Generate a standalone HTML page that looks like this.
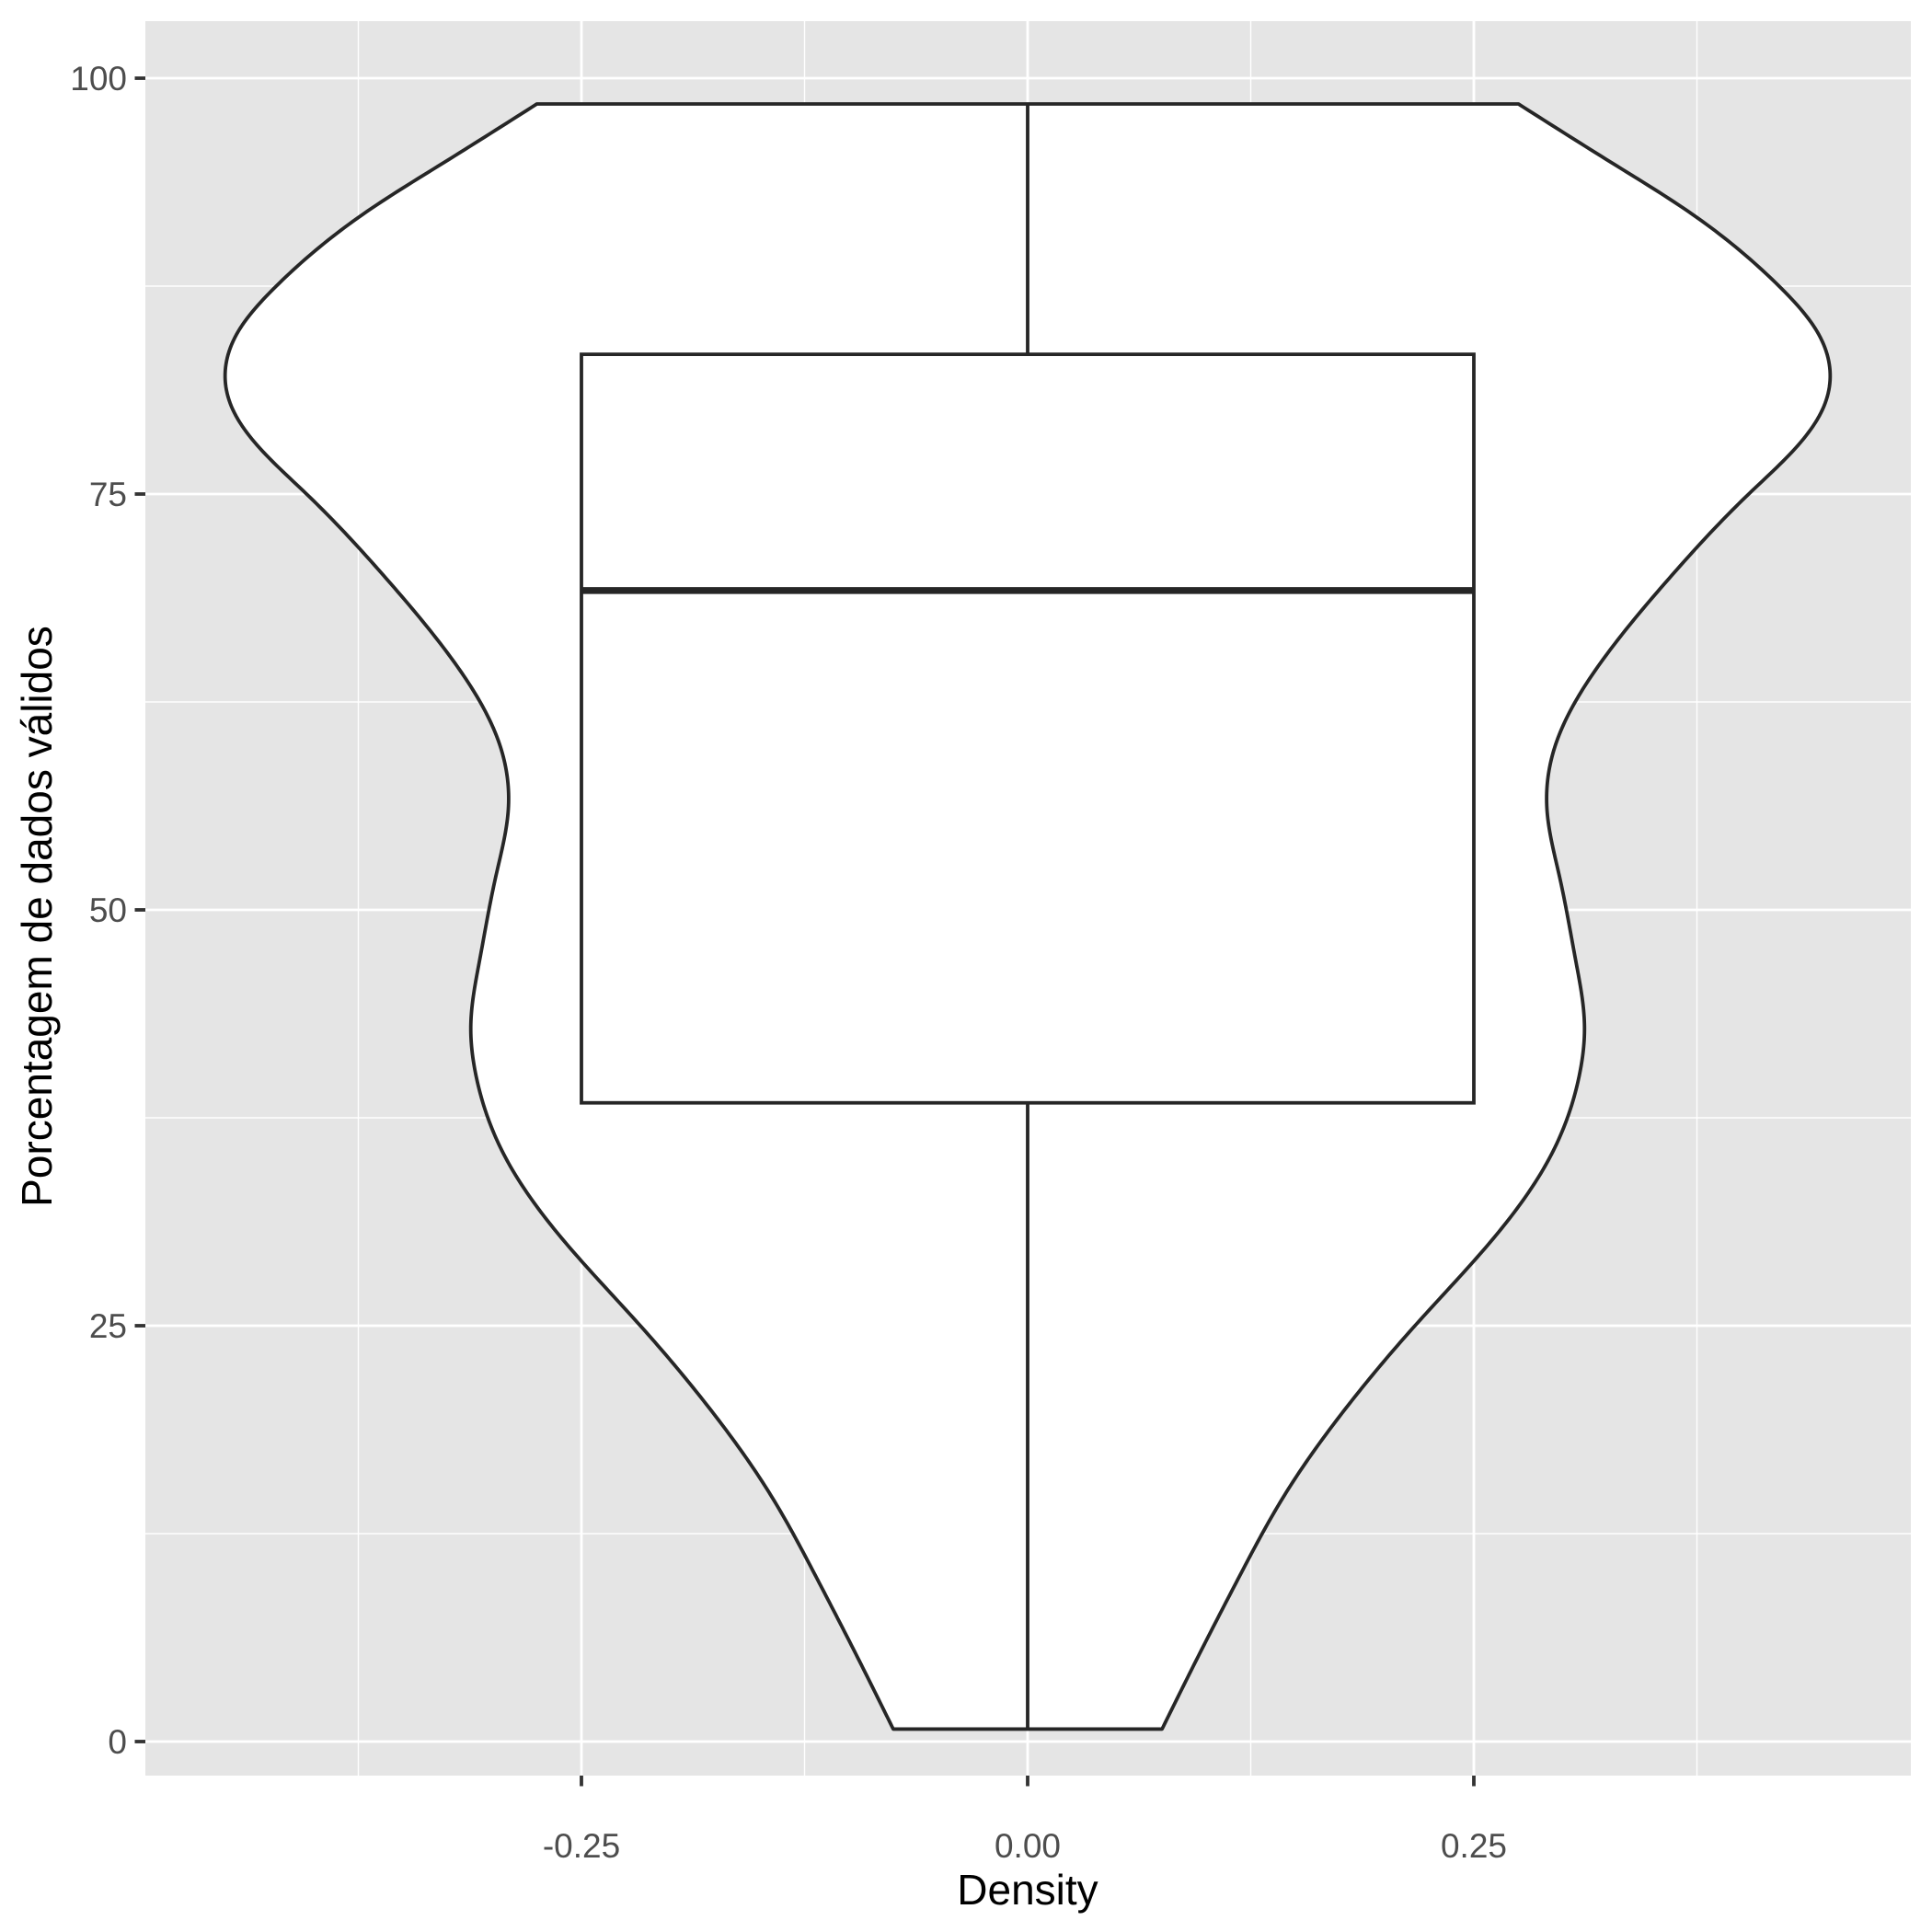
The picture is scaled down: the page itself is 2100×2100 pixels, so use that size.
<!DOCTYPE html>
<html><head><meta charset="utf-8"><style>
html,body{margin:0;padding:0;background:#fff;}
svg{display:block;font-family:"Liberation Sans",Arial,sans-serif;}
</style></head><body>
<svg id="chart" width="2100" height="2100" viewBox="0 0 2100 2100">
<rect x="0" y="0" width="2100" height="2100" fill="#fff"/>
<rect x="158" y="23" width="1919" height="1907" fill="#e5e5e5"/>
<g id="grid"></g>
<g id="marks"></g>
<g id="axes"></g>
<text x="1117" y="2070" font-size="46" text-anchor="middle" fill="#000">Density</text>
<text transform="translate(56,996) rotate(-90)" font-size="46" text-anchor="middle" fill="#000">Porcentagem de dados válidos</text>
</svg>
<script>
const violinY = [0.75, 5, 10, 15, 20, 25, 30, 35, 40, 43, 47, 52, 56, 60, 65, 70, 75, 77.5, 80, 82.5, 85, 87.5, 90, 92, 95, 98.45];
const violinHalfWidth = [0.0753, 0.095, 0.119, 0.145, 0.178, 0.217, 0.259, 0.292, 0.309, 0.312, 0.307, 0.298, 0.291, 0.296, 0.322, 0.360, 0.404, 0.428, 0.445, 0.4495, 0.441, 0.421, 0.395, 0.370, 0.326, 0.275];
const boxStats = [0.75, 38.4, 69.2, 83.4, 98.45]; // min, q1, median, q3, max
const boxHalfWidth = [0.25];
const xTicks = [-0.25, 0, 0.25];
const xTickLabels = ["-0.25", "0.00", "0.25"];
const yTicks = [0, 25, 50, 75, 100];
const yTickLabels = ["0", "25", "50", "75", "100"];
const xMinor = [-0.375, -0.125, 0.125, 0.375];
const yMinor = [12.5, 37.5, 62.5, 87.5];

const NS = "http://www.w3.org/2000/svg";
const X = v => 1117 + v * 1940;
const Y = v => 1893 - v * 18.08;
const PL = 158, PR = 2077, PT = 23, PB = 1930;

function mk(parent, tag, attrs) {
  const e = document.createElementNS(NS, tag);
  for (const k in attrs) e.setAttribute(k, attrs[k]);
  parent.appendChild(e);
  return e;
}
const grid = document.getElementById('grid');
const marks = document.getElementById('marks');
const axes = document.getElementById('axes');

xMinor.forEach(v => {
  const l = mk(grid, 'line', {x1: X(v), x2: X(v), y1: PT, y2: PB, stroke: '#fff', 'stroke-width': 1.4});
  
  
});
yMinor.forEach(v => {
  const l = mk(grid, 'line', {x1: PL, x2: PR, y1: Y(v), y2: Y(v), stroke: '#fff', 'stroke-width': 1.4});
  
  
});
xTicks.forEach(v => {
  const l = mk(grid, 'line', {x1: X(v), x2: X(v), y1: PT, y2: PB, stroke: '#fff', 'stroke-width': 2.8});
  
  
});
yTicks.forEach(v => {
  const l = mk(grid, 'line', {x1: PL, x2: PR, y1: Y(v), y2: Y(v), stroke: '#fff', 'stroke-width': 2.8});
  
  
});

// Natural cubic spline of half-width over y
function naturalSpline(xs, ys) {
  const n = xs.length, h = [], a = [], b = [], c = [], r = [];
  for (let i = 0; i < n - 1; i++) h.push(xs[i + 1] - xs[i]);
  const M = new Array(n).fill(0);
  for (let i = 1; i < n - 1; i++) {
    a[i] = h[i - 1]; b[i] = 2 * (h[i - 1] + h[i]); c[i] = h[i];
    r[i] = 6 * ((ys[i + 1] - ys[i]) / h[i] - (ys[i] - ys[i - 1]) / h[i - 1]);
  }
  for (let i = 2; i < n - 1; i++) {
    const w = a[i] / b[i - 1];
    b[i] -= w * c[i - 1]; r[i] -= w * r[i - 1];
  }
  for (let i = n - 2; i >= 1; i--) M[i] = (r[i] - (i < n - 2 ? c[i] * M[i + 1] : 0)) / b[i];
  return t => {
    let i = 0;
    while (i < n - 2 && t > xs[i + 1]) i++;
    const hi = h[i], A = (xs[i + 1] - t) / hi, B = (t - xs[i]) / hi;
    return A * ys[i] + B * ys[i + 1] + ((A*A*A - A) * M[i] + (B*B*B - B) * M[i + 1]) * hi * hi / 6;
  };
}
const f = naturalSpline(violinY, violinHalfWidth);
const y0 = violinY[0], y1 = violinY[violinY.length - 1];
const samples = [];
for (let k = 0; k <= 500; k++) { const y = y0 + (y1 - y0) * k / 500; samples.push([y, f(y)]); }
let d = samples.map((p, i) => (i ? 'L' : 'M') + X(p[1]).toFixed(2) + ',' + Y(p[0]).toFixed(2)).join(' ');
d += ' ' + samples.slice().reverse().map(p => 'L' + X(-p[1]).toFixed(2) + ',' + Y(p[0]).toFixed(2)).join(' ') + ' Z';
const vio = mk(marks, 'path', {d: d, fill: '#fff', stroke: '#262626', 'stroke-width': 3.8, 'stroke-linejoin': 'round'});



const bw = boxHalfWidth[0];
const wl = mk(marks, 'line', {x1: X(0), x2: X(0), y1: Y(boxStats[0]), y2: Y(boxStats[1]), stroke: '#262626', 'stroke-width': 3.8});


const wu = mk(marks, 'line', {x1: X(0), x2: X(0), y1: Y(boxStats[3]), y2: Y(boxStats[4]), stroke: '#262626', 'stroke-width': 3.8});


const bx = mk(marks, 'rect', {x: X(-bw), y: Y(boxStats[3]), width: X(bw) - X(-bw), height: Y(boxStats[1]) - Y(boxStats[3]), fill: '#fff', stroke: '#262626', 'stroke-width': 3.8});


const md = mk(marks, 'line', {x1: X(-bw), x2: X(bw), y1: Y(boxStats[2]), y2: Y(boxStats[2]), stroke: '#262626', 'stroke-width': 7.5});



xTicks.forEach((v, i) => {
  const t = mk(axes, 'line', {x1: X(v), x2: X(v), y1: PB, y2: PB + 11.5, stroke: '#333', 'stroke-width': 3.8});
  
  
  const tx = mk(axes, 'text', {x: X(v), y: 2019, 'font-size': 37, 'text-anchor': 'middle', fill: '#4d4d4d'});
  tx.textContent = xTickLabels[i];
  
  
});
yTicks.forEach((v, i) => {
  const t = mk(axes, 'line', {x1: PL - 11.5, x2: PL, y1: Y(v), y2: Y(v), stroke: '#333', 'stroke-width': 3.8});
  
  
  const tx = mk(axes, 'text', {x: 138, y: Y(v) + 13, 'font-size': 37, 'text-anchor': 'end', fill: '#4d4d4d'});
  tx.textContent = yTickLabels[i];
  
  
});
</script>
</body></html>
